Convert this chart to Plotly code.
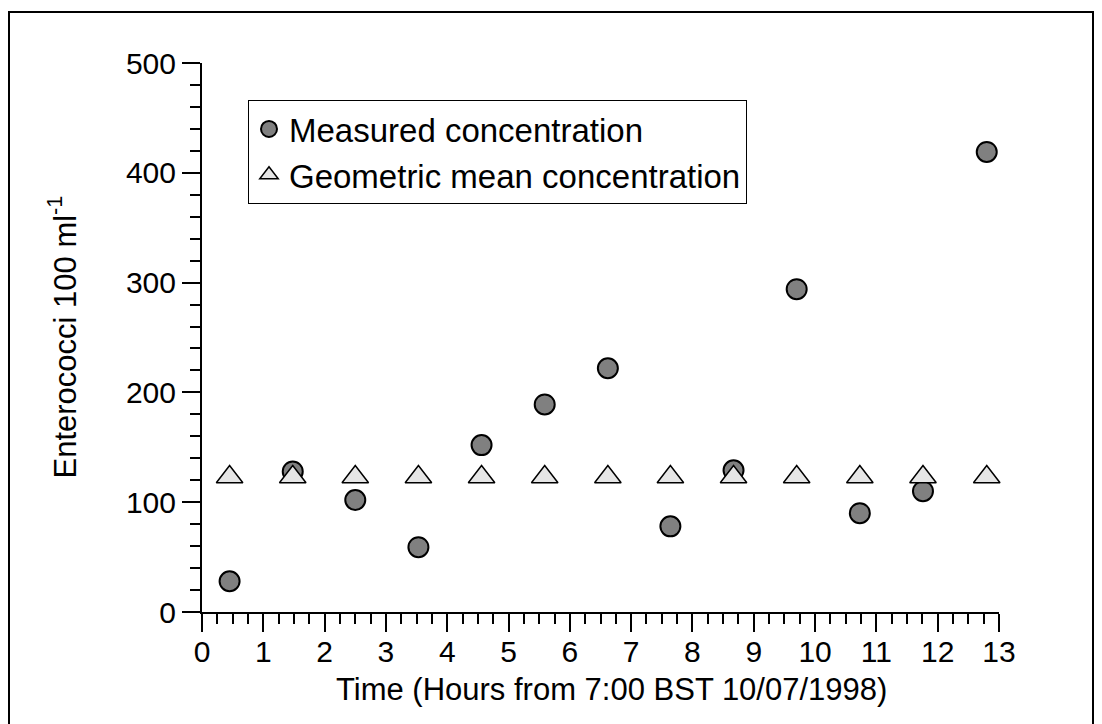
import plotly.graph_objects as go

# Data
time_hours = [0.45, 1.48, 2.5, 3.53, 4.56, 5.59, 6.62, 7.64, 8.67, 9.7, 10.73, 11.76, 12.8]
measured = [28, 128, 102, 59, 152, 189, 222, 78, 129, 294, 90, 110, 419]
geo_mean = [123, 123, 123, 123, 123, 123, 123, 123, 123, 123, 123, 123, 123]
x_ticks = list(range(0, 14))
y_ticks = [0, 100, 200, 300, 400, 500]

FONT = "Arial, Liberation Sans, sans-serif"
OFF = 8  # default page body margin
W, H = 1102 - OFF, 724 - OFF
L, T = 202 - OFF, 63 - OFF
pw, ph = 797, 549
R, B = W - L - pw, H - T - ph

def px_x(p):  # reference page pixel -> paper x
    return (p - OFF - L) / pw

def px_y(p):  # reference page pixel -> paper y
    return (T + ph - (p - OFF)) / ph

fig = go.Figure()
fig.add_trace(go.Scatter(
    x=time_hours, y=measured, mode="markers", name="Measured concentration",
    marker=dict(symbol="circle", size=20, color="#808080",
                line=dict(color="black", width=2)),
    cliponaxis=False,
))
fig.add_trace(go.Scatter(
    x=time_hours, y=geo_mean, mode="markers", name="Geometric mean concentration",
    marker=dict(symbol="triangle-up", size=23, color="#e6e6e6",
                line=dict(color="black", width=1.5)),
    cliponaxis=False,
))

TICK_FS = 30
fig.update_layout(
    width=W, height=H,
    margin=dict(l=L, r=R, t=T, b=B),
    paper_bgcolor="white", plot_bgcolor="white",
    font=dict(family=FONT, size=TICK_FS, color="black"),
    showlegend=True,
    legend=dict(
        x=px_x(248), y=px_y(100), xanchor="left", yanchor="top",
        bgcolor="white", bordercolor="black", borderwidth=1,
        font=dict(family=FONT, size=33, color="black"),
        itemsizing="trace",
    ),
    xaxis=dict(
        range=[0, 13], tickvals=x_ticks, ticktext=[str(v) for v in x_ticks],
        showline=True, linecolor="black", linewidth=2,
        ticks="outside", ticklen=18, tickwidth=2, tickcolor="black",
        minor=dict(dtick=0.25, ticks="outside", ticklen=10, tickwidth=2, tickcolor="black"),
        showgrid=False, zeroline=False,
        tickfont=dict(family=FONT, size=TICK_FS),
        ticklabelstandoff=-6,
    ),
    yaxis=dict(
        range=[0, 500], tickvals=y_ticks, ticktext=[str(v) for v in y_ticks],
        showline=True, linecolor="black", linewidth=2,
        ticks="outside", ticklen=18, tickwidth=2, tickcolor="black",
        minor=dict(dtick=20, ticks="outside", ticklen=10, tickwidth=2, tickcolor="black"),
        showgrid=False, zeroline=False,
        tickfont=dict(family=FONT, size=TICK_FS),
    ),
    annotations=[
        dict(
            text="Enterococci 100 ml<sup>-1</sup>", textangle=-90,
            x=px_x(62), y=0.5, xref="paper", yref="paper",
            xanchor="center", yanchor="middle", showarrow=False,
            font=dict(family=FONT, size=31, color="black"),
        ),
        dict(
            text="Time (Hours from 7:00 BST 10/07/1998)",
            x=px_x(611), y=px_y(689), xref="paper", yref="paper",
            xanchor="center", yanchor="middle", showarrow=False,
            font=dict(family=FONT, size=31, color="black"),
        ),
    ],
    shapes=[dict(
        type="rect", xref="paper", yref="paper",
        x0=px_x(9), x1=px_x(1093), y0=px_y(740), y1=px_y(12),
        line=dict(color="black", width=2), fillcolor="rgba(0,0,0,0)", layer="below",
    )],
)

fig.write_html("out.html")
